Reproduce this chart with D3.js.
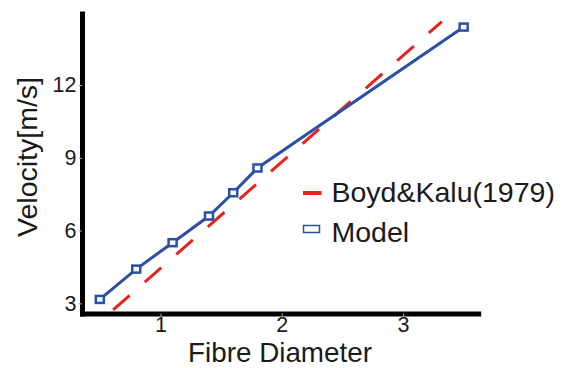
<!DOCTYPE html>
<html lang="en">
    <head>
        <meta charset="utf-8">
        <title>Velocity vs Fibre Diameter</title>
        <script type="text/javascript" src="https://cdn.jsdelivr.net/npm/d3@7"></script>
        <style type="text/css">
          body { margin: 0; background: white; }
          .axis .domain {
            stroke: black;
            stroke-width: 5;
            stroke-linecap: square;
            fill: none;
          }
          .axis .tick line {
            stroke: #aaa;
            stroke-width: 1;
          }
          .axis text {
            font-family: "Liberation Sans", Arial, sans-serif;
            font-size: 21.5px;
            fill: #1a1a1a;
          }
          .label, .legend text {
            font-family: "Liberation Sans", Arial, sans-serif;
            font-size: 28.5px;
            fill: #1a1a1a;
          }
          .label.xname { font-size: 27.8px; }
        </style>
    </head>
    <body>
        <script type="text/javascript">
            // Data
            var modelDiameter = [0.5, 0.8, 1.1, 1.4, 1.6, 1.8, 3.5];
            var modelVelocity = [3.16, 4.41, 5.5, 6.6, 7.56, 8.58, 14.39];

            var boydDiameter = [0.61, 3.32];
            var boydVelocity = [2.73, 14.62];

            var xTicks = [1, 2, 3];
            var yTicks = [3, 6, 9, 12];

            var legendLabels = ["Boyd&Kalu(1979)", "Model"];

            var blue = "#2a4fa6";
            var red = "#e5221d";

            // Canvas
            var w = 577;
            var h = 368;

            var svg = d3.select("body").append("svg")
            .attr("width", w)
            .attr("height", h);

            // Scales
            var x = d3.scaleLinear()
            .domain([0.353, 3.62])
            .range([82, 478.2]);

            var y = d3.scaleLinear()
            .domain([2.58, 14.95])
            .range([313.5, 13.5]);

            // Axes
            var xAxis = d3.axisBottom(x)
            .tickValues(xTicks)
            .tickFormat(d3.format("d"))
            .tickSizeInner(3.5)
            .tickSizeOuter(0)
            .tickPadding(0);

            var yAxis = d3.axisLeft(y)
            .tickValues(yTicks)
            .tickFormat(d3.format("d"))
            .tickSizeInner(3.5)
            .tickSizeOuter(0)
            .tickPadding(2);

            svg.append("g")
            .attr("class", "axis")
            .attr("transform", "translate(0," + y.range()[0] + ")")
            .call(xAxis);

            svg.append("g")
            .attr("class", "axis")
            .attr("transform", "translate(" + x.range()[0] + ",0)")
            .call(yAxis);

            // Boyd & Kalu line (dashed)
            var boyd = boydDiameter.map(function(d, i) { return {x: d, y: boydVelocity[i]}; });
            var model = modelDiameter.map(function(d, i) { return {x: d, y: modelVelocity[i]}; });

            var line = d3.line()
            .x(function(d) { return x(d.x); })
            .y(function(d) { return y(d.y); });

            svg.append("path")
            .datum(boyd)
            .attr("d", line)
            .style("fill", "none")
            .style("stroke", red)
            .style("stroke-width", 3)
            .style("stroke-dasharray", "22,20");

            // Model line + square markers
            svg.append("path")
            .datum(model)
            .attr("d", line)
            .style("fill", "none")
            .style("stroke", blue)
            .style("stroke-width", 3);

            svg.append("g")
            .selectAll("rect")
            .data(model)
            .enter()
            .append("rect")
            .attr("x", function(d) { return x(d.x) - 4; })
            .attr("y", function(d) { return y(d.y) - 3.5; })
            .attr("width", 8)
            .attr("height", 7)
            .style("fill", "white")
            .style("stroke", blue)
            .style("stroke-width", 2.5);

            // Axis names
            svg.append("text")
            .attr("class", "label xname")
            .attr("x", 280)
            .attr("y", 362)
            .attr("text-anchor", "middle")
            .text("Fibre Diameter");

            svg.append("text")
            .attr("class", "label")
            .attr("transform", "translate(36.5,157) rotate(-90)")
            .attr("text-anchor", "middle")
            .text("Velocity[m/s]");

            // Legend
            var legend = svg.append("g")
            .attr("class", "legend");

            legend.append("line")
            .attr("x1", 303)
            .attr("x2", 321.5)
            .attr("y1", 193)
            .attr("y2", 193)
            .style("stroke", red)
            .style("stroke-width", 4);

            legend.append("rect")
            .attr("x", 303.5)
            .attr("y", 225.5)
            .attr("width", 16)
            .attr("height", 7)
            .style("fill", "white")
            .style("stroke", blue)
            .style("stroke-width", 1.5);

            legend.selectAll("text")
            .data(legendLabels)
            .enter()
            .append("text")
            .attr("x", 331.5)
            .attr("y", function(d, i) { return 201.5 + i * 40; })
            .text(function(d) { return d; });
        </script>
    </body>
</html>
